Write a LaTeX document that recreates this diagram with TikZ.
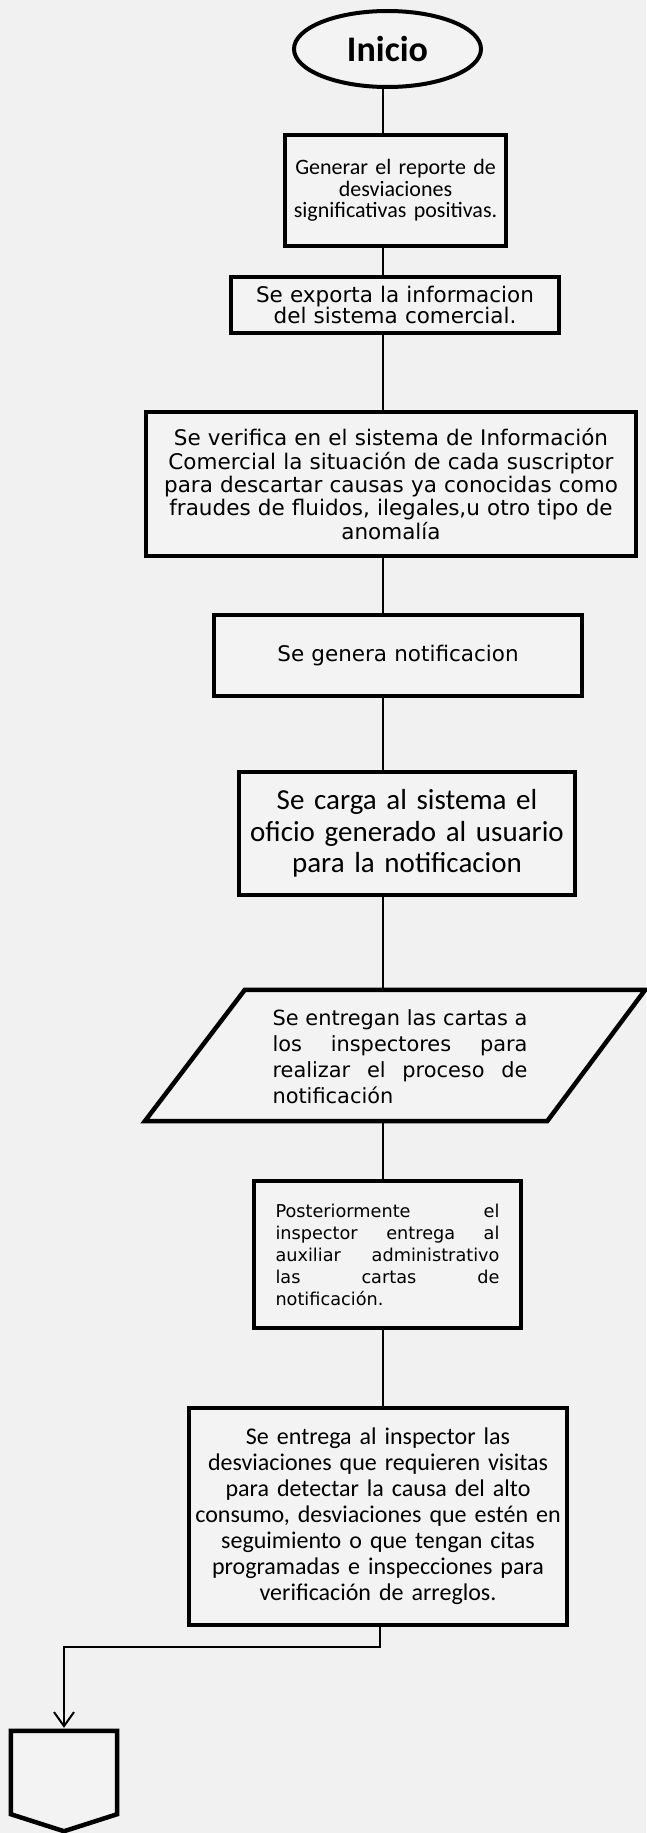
\documentclass[tikz,border=0pt]{standalone}
\usepackage{fontspec}
\setmainfont{Carlito}
\newfontfamily\verd{DejaVu Sans}
\newfontfamily\calib{Carlito}
\usetikzlibrary{arrows.meta,shapes.geometric}
\definecolor{bg}{HTML}{F1F1F1}
\definecolor{boxfill}{HTML}{F3F3F3}
\newcommand{\jline}[2]{\leavevmode\hbox to #1{#2}}
\tikzset{
  box/.style={draw=black, line width=4.5pt, fill=boxfill, inner sep=0pt, align=center},
  shapeline/.style={draw=black, line width=4.5pt, fill=boxfill, line join=miter},
  conn/.style={draw=black, line width=2pt},
  plain/.style={inner sep=0pt},
}
\begin{document}
\begin{tikzpicture}[x=1pt,y=-1pt]
\useasboundingbox[fill=bg] (0,0) rectangle (646,1833);
\coordinate (sp) at (383,0);
\coordinate (sp8) at (380,0);

\node[ellipse, draw=black, line width=4pt, fill=boxfill, minimum width=187pt, minimum height=76pt,
      inner sep=0pt, font=\calib\bfseries\fontsize{36}{40}\selectfont] (ini) at (387.5,49) {Inicio};

\node[box, minimum width=221pt, minimum height=111pt, text width=215pt,
      font=\calib\fontsize{22}{21.7}\selectfont] (b1) at (395.5,190.5)
  {Generar el reporte de\\desviaciones\\significativas positivas.};

\node[box, minimum width=328pt, minimum height=56pt, text width=320pt,
      font=\verd\fontsize{21.5}{21.7}\selectfont] (b2) at (395,305)
  {Se exporta la informacion\\del sistema comercial.};

\node[box, minimum width=490pt, minimum height=144pt, text width=480pt,
      font=\verd\fontsize{21.5}{23.3}\selectfont] (b3) at (391,484)
  {Se verifica en el sistema de Información\\Comercial la situación de cada suscriptor\\para descartar causas ya conocidas como\\fraudes de fluidos, ilegales,u otro tipo de\\anomalía};

\node[box, minimum width=368pt, minimum height=81pt, text width=360pt,
      font=\verd\fontsize{21.5}{24}\selectfont] (b4) at (398,655.5)
  {Se genera notificacion};

\node[box, minimum width=336pt, minimum height=123pt, text width=330pt,
      font=\calib\fontsize{29}{31.7}\selectfont] (b5) at (407,833.5)
  {Se carga al sistema el\\oficio generado al usuario\\para la notificacion};

% parallelogram
\node[plain, minimum width=400pt, minimum height=131pt] (p6) at (395,1055.5) {};
\path[shapeline] ([xshift=50pt]p6.north west) -- ([xshift=50pt]p6.north east)
  -- ([xshift=-48pt]p6.south east) -- ([xshift=-50pt]p6.south west) -- cycle;
\node[plain, text width=255pt, align=left, font=\verd\fontsize{20.9}{26}\selectfont] (p6t) at (400,1057)
  {\jline{255pt}{Se\hfill entregan\hfill las\hfill cartas\hfill a}\\
   \jline{255pt}{los\hfill inspectores\hfill para}\\
   \jline{255pt}{realizar\hfill el\hfill proceso\hfill de}\\
   notificación};

\node[box, minimum width=267pt, minimum height=147pt, text width=224pt, align=left,
      font=\verd\fontsize{17.7}{22}\selectfont] (b7) at (387.5,1254.5)
  {\jline{224pt}{Posteriormente\hfill el}\\
   \jline{224pt}{inspector\hfill entrega\hfill al}\\
   \jline{224pt}{auxiliar\hfill administrativo}\\
   \jline{224pt}{las\hfill cartas\hfill de}\\
   notificación.};

\node[box, minimum width=378pt, minimum height=217pt, text width=370pt,
      font=\calib\fontsize{24}{26}\selectfont] (b8) at (378,1516.5)
  {Se entrega al inspector las\\desviaciones que requieren visitas\\para detectar la causa del alto\\consumo, desviaciones que estén en\\seguimiento o que tengan citas\\programadas e inspecciones para\\verificación de arreglos.};

% off-page connector
\node[plain, minimum width=106pt, minimum height=83pt] (off) at (64,1772.5) {};
\path[shapeline] (off.north west) -- (off.north east) -- (off.south east)
  -- ([yshift=-17pt]off.south) -- (off.south west) -- cycle;

% connectors
\draw[conn] (sp |- ini.south) -- (sp |- b1.north);
\draw[conn] (sp |- b1.south) -- (sp |- b2.north);
\draw[conn] (sp |- b2.south) -- (sp |- b3.north);
\draw[conn] (sp |- b3.south) -- (sp |- b4.north);
\draw[conn] (sp |- b4.south) -- (sp |- b5.north);
\draw[conn] (sp |- b5.south) -- (sp |- p6.north);
\draw[conn] (sp |- p6.south) -- (sp |- b7.north);
\draw[conn] (sp |- b7.south) -- (sp |- b8.north);
\draw[conn, -{Straight Barb[length=14pt,width=20pt]}] (sp8 |- b8.south) -- ++(0,20) -| ([yshift=3pt]off.north);
\end{tikzpicture}
\end{document}
